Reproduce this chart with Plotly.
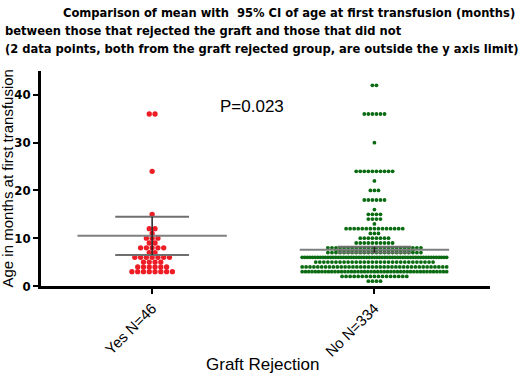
import plotly.graph_objects as go

# ---- data ----
categories = ["Yes N=46", "No N=334"]
# age at first transfusion (months), value: count (visible points only)
yes_values = {36: 2, 24: 1, 15: 1, 12: 2, 11: 1, 10: 3, 9: 2, 8: 5, 7: 2, 6: 7, 5: 4, 4: 6, 3: 8}
no_values = {42: 2, 36: 6, 30: 1, 24: 10, 22: 1, 20: 3, 18: 6, 16: 1, 15: 4, 14: 4, 13: 1,
             12: 15, 11: 3, 10: 8, 9: 10, 8: 24, 7.5: 20, 7: 24, 6: 57, 5: 30, 4: 38, 3: 45,
             2: 17, 1: 4}
means = [10.5, 7.6]
ci_low = [6.5, 7.0]
ci_high = [14.5, 8.2]
p_text = "P=0.023"


def swarm(center, counts, spacing, max_half):
    xs, ys = [], []
    for v, n in counts.items():
        sp = spacing if n < 2 else min(spacing, 2 * max_half / (n - 1))
        for i in range(n):
            xs.append(center + (i - (n - 1) / 2) * sp)
            ys.append(v)
    return xs, ys


fig = go.Figure()

xr, yr = swarm(0, yes_values, 0.026, 0.33)
xg, yg = swarm(1, no_values, 0.0182, 0.325)

fig.add_trace(go.Scatter(x=xr, y=yr, mode="markers",
                         marker=dict(color="#ee1c25", size=5.3, line=dict(width=0)),
                         showlegend=False, hoverinfo="y"))
fig.add_trace(go.Scatter(x=xg, y=yg, mode="markers",
                         marker=dict(color="#0b6b12", size=3.8, line=dict(width=0)),
                         showlegend=False, hoverinfo="y"))

# mean and CI lines
for i in range(2):
    fig.add_trace(go.Scatter(x=[i - 0.336, i + 0.336], y=[means[i], means[i]], mode="lines",
                             line=dict(color="#7f7f7f", width=2), showlegend=False, hoverinfo="skip"))
    for v in (ci_low[i], ci_high[i]):
        fig.add_trace(go.Scatter(x=[i - 0.166, i + 0.166], y=[v, v], mode="lines",
                                 line=dict(color="#6f6f6f", width=2), showlegend=False, hoverinfo="skip"))
    fig.add_trace(go.Scatter(x=[i, i], y=[ci_low[i], ci_high[i]], mode="lines",
                             line=dict(color="#222222", width=1.5), showlegend=False, hoverinfo="skip"))

title_font = dict(family="DejaVu Sans Condensed", size=12.8, color="black", weight="bold")
annotations = [
    dict(text="Comparison of mean with  95% CI of age at first transfusion (months)",
         x=1.06, y=1.27, xanchor="right", yanchor="middle", font=title_font),
    dict(text="between those that rejected the graft and those that did not",
         x=-0.0846, y=1.188, xanchor="left", yanchor="middle", font=title_font),
    dict(text="(2 data points, both from the graft rejected group, are outside the y axis limit)",
         x=-0.0846, y=1.105, xanchor="left", yanchor="middle", font=title_font),
    dict(text=p_text, x=0.47, y=0.837, xanchor="center", yanchor="middle",
         font=dict(family="Liberation Sans, Arial", size=17, color="black")),
    dict(text="Age in months at first transfusion", textangle=-90, x=-0.0735, y=0.5,
         xanchor="center", yanchor="middle",
         font=dict(family="Liberation Sans, Arial", size=15, color="black")),
    dict(text="Graft Rejection", x=0.494, y=-0.367, xanchor="center", yanchor="middle",
         font=dict(family="Liberation Sans, Arial", size=17, color="black")),
]
for a in annotations:
    a.update(xref="paper", yref="paper", showarrow=False)

fig.update_layout(
    width=520, height=375,
    margin=dict(l=41, r=30, t=71, b=89),
    paper_bgcolor="white", plot_bgcolor="white",
    annotations=annotations,
    xaxis=dict(range=[-0.5, 1.52], tickvals=[0, 1], ticktext=categories, tickangle=-45,
               showgrid=False, zeroline=False, showline=True, linecolor="black", linewidth=2.5,
               ticks="outside", ticklen=5, tickwidth=2, tickcolor="black", automargin=False,
               tickfont=dict(family="Liberation Sans, Arial", size=15, color="black")),
    yaxis=dict(range=[0, 45], tickvals=[0, 10, 20, 30, 40], showgrid=False, zeroline=False,
               showline=True, linecolor="black", linewidth=2.5, automargin=False,
               ticks="outside", ticklen=5, tickwidth=2, tickcolor="black",
               tickfont=dict(family="DejaVu Sans Condensed", size=13, color="black", weight="bold")),
)

fig.write_html("out.html", config={"displayModeBar": False},
               post_script="document.body.style.margin='0';document.body.style.padding='0';")
